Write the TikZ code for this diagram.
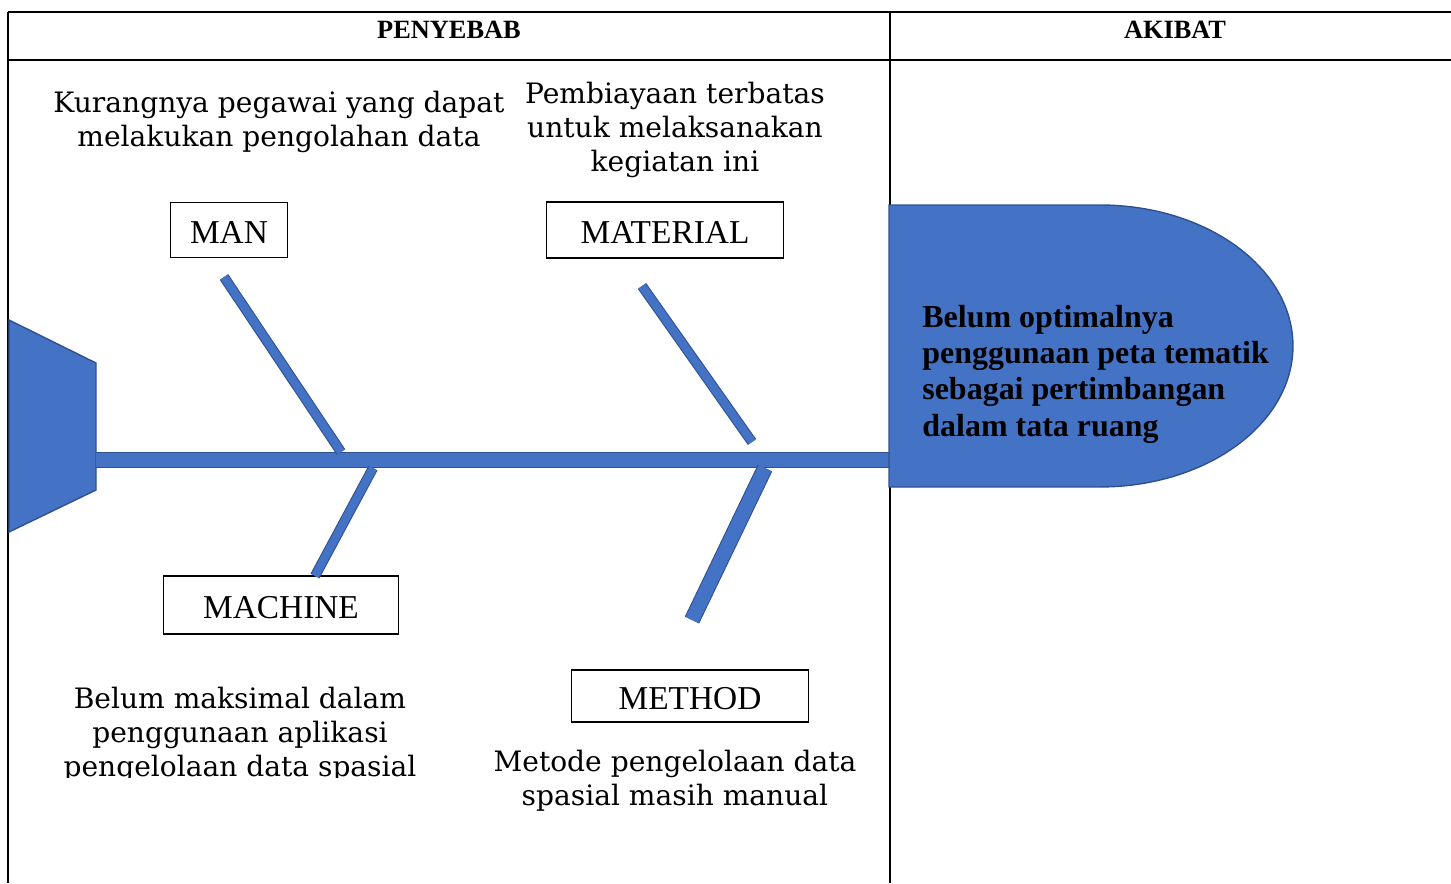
\documentclass[tikz,border=0pt]{standalone}
\usepackage{fontspec}
\setmainfont{Liberation Serif}
\newfontfamily\wideserif{DejaVu Serif}
\usetikzlibrary{positioning}

\definecolor{fishblue}{HTML}{4472C4}
\definecolor{fishedge}{HTML}{2F528F}

\begin{document}
\begin{tikzpicture}[x=0.02cm, y=-0.02cm]

  \tikzstyle{grid}  = [line width=1.1pt]
  \tikzstyle{title} = [inner sep=0pt, font=\bfseries\fontsize{15}{18}\selectfont]
  \tikzstyle{cause} = [rectangle, draw=black, line width=0.6pt, inner sep=0pt, text height=0.55cm, font=\fontsize{19}{22}\selectfont]
  \tikzstyle{note}  = [align=center, inner sep=0pt, font=\wideserif\fontsize{16}{19.3}\selectfont]
  \tikzstyle{fish}  = [draw=fishedge, line width=0.8pt, fill=fishblue]
  \tikzstyle{bone}  = [draw=fishedge, line width=0.6pt, double=fishblue, double distance=4.6pt]
  \tikzstyle{spine} = [bone, double distance=7.9pt]

  \useasboundingbox (0,0) rectangle (1451,883);

  % table
  \draw [grid] (8,12) -- (1451,12);
  \draw [grid] (8,60) -- (1451,60);
  \draw [grid] (8,12) -- (8,883);
  \draw [grid] (890,12) -- (890,883);
  \node (penyebab) [title] at (449,30) {PENYEBAB};
  \node (akibat)   [title] at (1175,30) {AKIBAT};

  % tail, spine and head
  \draw [fish] (9,320) -- (96,363) -- (96,490) -- (9,532) -- cycle;
  \coordinate (tail) at (96,460);
  \coordinate (neck) at (889,460);
  \draw [spine] (tail) -- (neck);
  \draw [fish] (889,205) -- (1100,205) arc [start angle=90, end angle=-90, x radius=3.86cm, y radius=2.82cm] -- (889,487) -- cycle;
  \node (effect) [anchor=west, align=left, inner sep=0pt, font=\bfseries\fontsize{18.2}{20.7}\selectfont] at (922,374) {Belum optimalnya\\penggunaan peta tematik\\sebagai pertimbangan\\dalam tata ruang};

  % causes
  \node (man)      [cause, minimum width=2.34cm, minimum height=1.1cm]  at (229,230) {MAN};
  \node (material) [cause, minimum width=4.74cm, minimum height=1.12cm] at (665,230) {MATERIAL};
  \node (machine)  [cause, minimum width=4.7cm, minimum height=1.16cm]  at (281,605) {MACHINE};
  \node (method)   [cause, minimum width=4.74cm, minimum height=1.04cm] at (690,696) {METHOD};

  \coordinate (mantip)      at (224,277);
  \coordinate (manroot)     at (341,452);
  \coordinate (materialtip) at (642,286);
  \coordinate (materialroot) at (752,442);
  \coordinate (machineroot) at (373,468);
  \coordinate (machinetip)  at (315,576);
  \coordinate (methodroot)  at (765,468);
  \coordinate (methodtip)   at (692,620);

  \draw [bone]  (mantip) -- (manroot);
  \draw [bone]  (materialtip) -- (materialroot);
  \draw [bone]  (machineroot) -- (machinetip);
  \draw [spine] (methodroot) -- (methodtip);

  % notes
  \node (mannote)      [note] at (279,122) {Kurangnya pegawai yang dapat\\melakukan pengolahan data};
  \node (materialnote) [note] at (675,130) {Pembiayaan terbatas\\untuk melaksanakan\\kegiatan ini};
  \begin{scope}
    \clip (8,60) rectangle (890,777);
    \node (machinenote) [note] at (240,735) {Belum maksimal dalam\\penggunaan aplikasi\\pengelolaan data spasial};
  \end{scope}
  \node (methodnote)   [note] at (675,781) {Metode pengelolaan data\\spasial masih manual};

\end{tikzpicture}
\end{document}
